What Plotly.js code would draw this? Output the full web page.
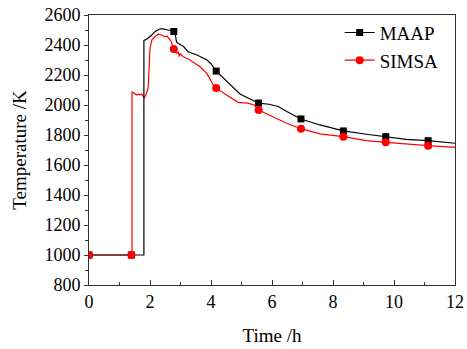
<!DOCTYPE html>
<html>
<head>
<meta charset="utf-8">
<script src="https://cdn.plot.ly/plotly-3.0.1.min.js"></script>
<style>html,body{margin:0;padding:0;background:#fff;}#chart{width:467px;height:349px;}</style>
</head>
<body>
<div id="chart"></div>
<script>
// Time (h) and temperature (K)
var maapTime = [0, 1.39, 1.80, 1.80, 1.89, 2.06, 2.16, 2.33, 2.43, 2.59, 2.78, 2.83, 2.87, 2.93, 3.0, 3.05, 3.1, 3.25, 3.54, 3.87, 4.0, 4.17, 4.4, 4.62, 4.95, 5.28, 5.56, 5.9, 6.2, 6.5, 6.95, 7.57, 8.34, 9.1, 9.73, 10.4, 11.12, 12];
var maapTemp = [1000, 1000, 1000, 2430, 2438, 2467, 2489, 2508, 2507, 2500, 2490, 2470, 2420, 2410, 2400, 2395, 2390, 2355, 2333, 2300, 2275, 2226, 2180, 2133, 2073, 2040, 2013, 2005, 1990, 1955, 1907, 1867, 1827, 1805, 1789, 1771, 1762, 1745];

var simsaTime = [0, 1.39, 1.41, 1.41, 1.51, 1.56, 1.62, 1.67, 1.73, 1.78, 1.81, 1.86, 1.89, 1.94, 2.0, 2.06, 2.16, 2.27, 2.38, 2.49, 2.55, 2.63, 2.68, 2.78, 2.82, 2.88, 2.93, 2.96, 2.98, 3.09, 3.31, 3.64, 3.86, 4.08, 4.17, 4.51, 4.89, 5.2, 5.42, 5.56, 6.15, 6.48, 6.95, 7.57, 8.34, 9.1, 9.73, 10.4, 11.12, 12];
var simsaTemp = [1000, 1000, 1000, 2089, 2078, 2067, 2073, 2067, 2073, 2055, 2045, 2067, 2089, 2113, 2378, 2433, 2455, 2473, 2467, 2455, 2460, 2444, 2429, 2373, 2355, 2344, 2355, 2322, 2344, 2322, 2300, 2255, 2211, 2133, 2114, 2067, 2018, 2013, 2000, 1967, 1911, 1878, 1842, 1807, 1789, 1762, 1751, 1738, 1729, 1718];

var markerTimes = [0, 1.39, 2.78, 4.17, 5.56, 6.95, 8.34, 9.73, 11.12];
var seriesNames = ['MAAP', 'SIMSA'];
var xTickLabels = ['0', '2', '4', '6', '8', '10', '12'];
var yTickLabels = ['800', '1000', '1200', '1400', '1600', '1800', '2000', '2200', '2400', '2600'];

function pick(ts, ks) {
  var x = [], y = [];
  for (var i = 0; i < ts.length; i++) {
    if (markerTimes.indexOf(ts[i]) >= 0 && x.indexOf(ts[i]) < 0) { x.push(ts[i]); y.push(ks[i]); }
  }
  return {x: x, y: y};
}
var mM = pick(maapTime, maapTemp);
var sM = pick(simsaTime, simsaTemp);

var black = '#000000', red = '#ff0000';
var traces = [
  {x: simsaTime, y: simsaTemp, mode: 'lines', line: {color: red, width: 1.2}, showlegend: false, hoverinfo: 'skip'},
  {x: maapTime, y: maapTemp, mode: 'lines', line: {color: black, width: 1.2}, showlegend: false, hoverinfo: 'skip'},
  {x: mM.x, y: mM.y, mode: 'markers', marker: {symbol: 'square', size: 7, color: black}, showlegend: false},
  {x: sM.x, y: sM.y, mode: 'markers', marker: {symbol: 'circle', size: 8, color: red}, showlegend: false},
  {x: [null], y: [null], name: seriesNames[0], mode: 'lines+markers', line: {color: black, width: 1.2}, marker: {symbol: 'square', size: 7, color: black}},
  {x: [null], y: [null], name: seriesNames[1], mode: 'lines+markers', line: {color: red, width: 1.2}, marker: {symbol: 'circle', size: 8, color: red}}
];

var fontFam = 'Liberation Serif, Times New Roman, serif';
var layout = {
  width: 467, height: 349,
  margin: {l: 89, r: 12, t: 15, b: 64},
  paper_bgcolor: '#fff', plot_bgcolor: '#fff',
  font: {family: fontFam, size: 17, color: '#000'},
  showlegend: true,
  legend: {x: 0.685, y: 1.005, xanchor: 'left', yanchor: 'top', bgcolor: 'rgba(0,0,0,0)', font: {family: fontFam, size: 19, color: '#000'}, tracegroupgap: 0, itemwidth: 30},
  xaxis: {
    range: [0, 12], tickvals: xTickLabels.map(Number), ticktext: xTickLabels,
    ticks: 'inside', ticklen: 5, tickcolor: '#333', tickwidth: 1,
    minor: {dtick: 1, ticks: 'inside', ticklen: 3, tickcolor: '#333'},
    showline: true, linecolor: '#333', linewidth: 1, mirror: true,
    showgrid: false, zeroline: false,
    title: {text: 'Time /h', font: {family: fontFam, size: 19}, standoff: 18},
    tickfont: {family: fontFam, size: 18}
  },
  yaxis: {
    range: [800, 2600], tickvals: yTickLabels.map(Number), ticktext: yTickLabels,
    ticks: 'outside', ticklen: 4, tickcolor: '#333', tickwidth: 1,
    minor: {dtick: 100, ticks: 'outside', ticklen: 3, tickcolor: '#333'},
    showline: true, linecolor: '#333', linewidth: 1, mirror: true,
    showgrid: false, zeroline: false,
    title: {text: 'Temperature /K', font: {family: fontFam, size: 19}, standoff: 12},
    tickfont: {family: fontFam, size: 18}
  }
};
Plotly.newPlot('chart', traces, layout, {staticPlot: true, displayModeBar: false});
</script>
</body>
</html>
